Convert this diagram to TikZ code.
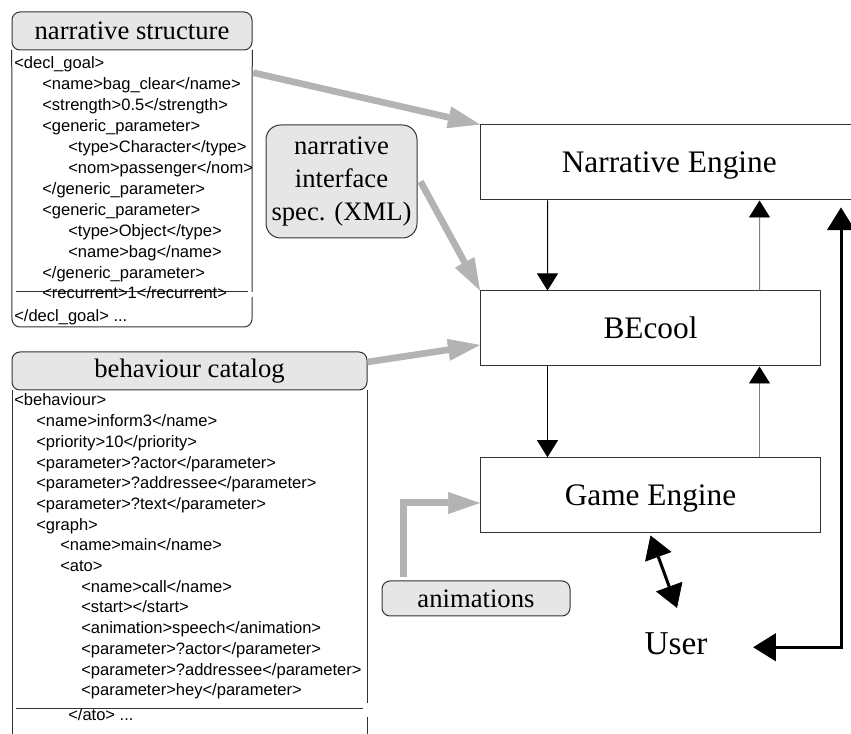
\documentclass[tikz,border=0pt]{standalone}
\usepackage{fontspec}
\setmainfont{Liberation Serif}
\newfontfamily\codefont{Liberation Sans}
\usetikzlibrary{arrows.meta,calc}

\definecolor{boxfill}{HTML}{E6E6E6}
\definecolor{flowgray}{HTML}{B3B3B3}
\definecolor{edge}{HTML}{333333}
\definecolor{upline}{HTML}{808080}

\tikzset{
  engine/.style={draw=edge, line width=0.75pt, fill=white, minimum width=255pt,
    minimum height=56.25pt, inner sep=0pt, text height=20pt, text depth=5pt,
    font=\fontsize{23.5}{28}\selectfont},
  titlebox/.style={draw=edge, line width=0.75pt, fill=boxfill, rounded corners=6pt,
    inner sep=0pt, font=\fontsize{20}{24.4}\selectfont},
  code/.style={anchor=base west, inner sep=0pt, font=\codefont\fontsize{12.4}{15}\selectfont},
  frame/.style={draw=edge, line width=0.75pt},
  flow/.style={draw=flowgray, line width=5pt,
    -{Triangle[length=24pt,width=16.5pt,line width=0.5pt]}},
  down/.style={draw=black, line width=0.75pt,
    -{Triangle[length=12.75pt,width=15.75pt,line width=0.5pt]}},
  up/.style={draw=upline, line width=0.75pt,
    -{Triangle[length=12.75pt,width=15.75pt,line width=0.5pt,color=black]}},
  userlink/.style={draw=black, line width=2.25pt, line join=miter,
    {Triangle[length=17pt,width=21pt,line width=0.5pt]}-{Triangle[length=17pt,width=21pt,line width=0.5pt]}},
}

\begin{document}
\begin{tikzpicture}[x=0.75pt,y=-0.75pt]
\useasboundingbox (0,0) rectangle (851,734);
\clip (0,0) rectangle (851,734);

% ---------- narrative structure panel ----------
\node[titlebox, minimum width=180pt, minimum height=28.5pt] (nsT) at (132,31) {narrative structure};
\node[minimum width=180pt, minimum height=207.75pt, inner sep=0pt] (nsB) at (132,188.5) {};
\draw[frame] (nsB.north east) -- (252,292);
\draw[frame, rounded corners=6pt] (252,297) -- (252,327) -- (12,327) -- (nsB.north west);
\draw[frame] (16,292) -- (248,292);

\node[code] (ns0)  at (14,69)  {<decl\_goal>};
\node[code] (ns1)  at (42,90)  {<name>bag\_clear</name>};
\node[code] (ns2)  at (42,111) {<strength>0.5</strength>};
\node[code] (ns3)  at (42,132) {<generic\_parameter>};
\node[code] (ns4)  at (68,153) {<type>Character</type>};
\node[code] (ns5)  at (68,174) {<nom>passenger</nom>};
\node[code] (ns6)  at (42,195) {</generic\_parameter>};
\node[code] (ns7)  at (42,216) {<generic\_parameter>};
\node[code] (ns8)  at (68,237) {<type>Object</type>};
\node[code] (ns9)  at (68,258) {<name>bag</name>};
\node[code] (ns10) at (42,279) {</generic\_parameter>};
\node[code] (ns11) at (42,299) {<recurrent>1</recurrent>};
\node[code] (ns12) at (14,322) {</decl\_goal> ...};

% ---------- behaviour catalog panel ----------
\node[titlebox, minimum width=266.25pt, minimum height=28.5pt] (bcT) at (189.5,371) {behaviour catalog};
\draw[frame] (12,390) -- (12,736);
\draw[frame] (367,390) -- (367,703);
\draw[frame] (367,717) -- (367,736);
\draw[frame] (16,708) -- (363,708);

\node[code] (bc0)  at (14,406)    {<behaviour>};
\node[code] (bc1)  at (36,426.7)  {<name>inform3</name>};
\node[code] (bc2)  at (36,447.4)  {<priority>10</priority>};
\node[code] (bc3)  at (36,468.1)  {<parameter>?actor</parameter>};
\node[code] (bc4)  at (36,488.8)  {<parameter>?addressee</parameter>};
\node[code] (bc5)  at (36,509.5)  {<parameter>?text</parameter>};
\node[code] (bc6)  at (36,530.2)  {<graph>};
\node[code] (bc7)  at (60,550.9)  {<name>main</name>};
\node[code] (bc8)  at (60,571.6)  {<ato>};
\node[code] (bc9)  at (81,592.3)  {<name>call</name>};
\node[code] (bc10) at (81,613.0)  {<start></start>};
\node[code] (bc11) at (81,633.7)  {<animation>speech</animation>};
\node[code] (bc12) at (81,654.4)  {<parameter>?actor</parameter>};
\node[code] (bc13) at (81,675.1)  {<parameter>?addressee</parameter>};
\node[code] (bc14) at (81,695.8)  {<parameter>hey</parameter>};
\node[code] (bc15) at (68,720)    {</ato> ...};

% ---------- side inputs ----------
\node[titlebox, rounded corners=11pt, minimum width=113.25pt, minimum height=84.75pt,
      align=center] (nis) at (341.5,181.5) {narrative\\interface\\spec. (XML)};
\node[titlebox, minimum width=141pt, minimum height=26.25pt] (anim) at (476,598.5) {animations};

% ---------- engines ----------
\node[engine, minimum width=283.1pt] (NE) at (669.25,162.5) {Narrative Engine};
\node[engine] (BE) at (650.5,328.5) {BEcool};
\node[engine] (GE) at (650.5,495.2) {Game Engine};
\node[inner sep=0pt, anchor=base, font=\fontsize{25}{30}\selectfont] (User) at (676,655) {User};

% ---------- data flows ----------
\draw[flow] ($(nsB.north east)+(1,23)$) -- (NE.north west);
\draw[flow] ($(nis.east)+(3,0)$) -- (BE.north west);
\draw[flow] ($(bcT.east)+(0,-9)$) -- ($(BE.west)+(0,16.5)$);
\draw[flow, line width=5.25pt, line join=miter] ($(anim.north west)+(22,-3)$) |- ($(GE.west)+(0,7.8)$);

% ---------- control links between engines ----------
\draw[down] ($(NE.south west)+(67.5,0)$) -- ($(BE.north west)+(67.5,0)$);
\draw[up]   ($(BE.north west)+(279.5,0)$) -- ($(NE.south west)+(279.5,0)$);
\draw[down] ($(BE.south west)+(67.5,0)$) -- ($(GE.north west)+(67.5,0)$);
\draw[up]   ($(GE.north west)+(279.5,0)$) -- ($(BE.south west)+(279.5,0)$);

% ---------- user interaction ----------
\draw[userlink] ($(GE.south)+(0,2.3)$) -- ($(User.north)+(1,-25)$);
\draw[userlink] ($(User.east)+(45.5,3)$) -| ($(NE.south)+(171.75,7)$);
\end{tikzpicture}
\end{document}
